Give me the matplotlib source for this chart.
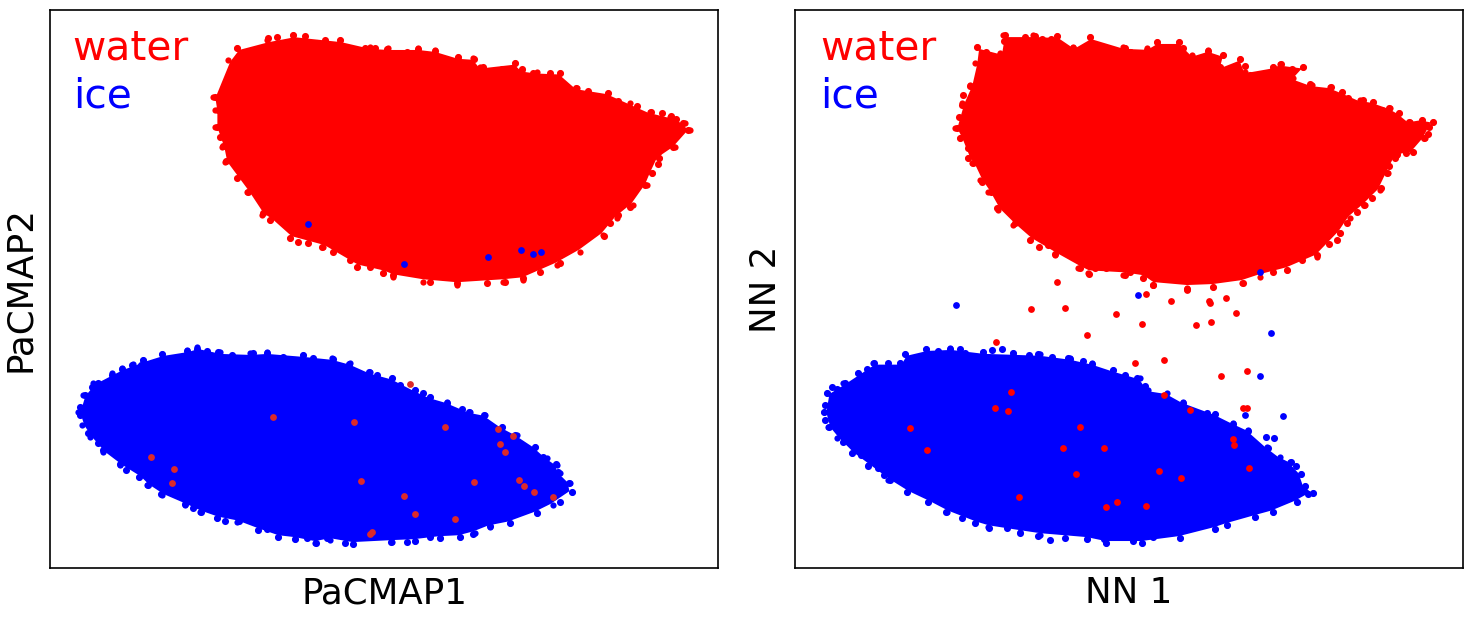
import matplotlib
matplotlib.use("Agg")
import matplotlib.pyplot as plt
import numpy as np

# no ticks on this chart so units are arbitrary
# EdgeX/EdgeY trace each cloud, RimX/RimY are single dots sticking out of the rim, strays are lone dots

pacmapWaterEdgeX = [213, 228, 237, 267, 293, 340, 370, 388, 418, 435, 458, 473, 480, 515, 522, 537, 560, 577, 608, 630, 650, 670, 685, 690, 675, 659, 652, 647, 633, 617, 603, 580, 557, 523, 503, 457, 423, 393, 383, 357, 323, 290, 270, 262, 247, 225, 222, 215, 215]
pacmapWaterEdgeY = [97, 60, 48, 40, 35, 40, 47, 48, 48, 50, 57, 58, 67, 63, 70, 72, 73, 88, 93, 103, 112, 117, 123, 130, 147, 158, 173, 185, 205, 218, 235, 252, 265, 280, 282, 285, 282, 277, 273, 267, 247, 238, 220, 215, 192, 162, 147, 127, 110]
pacmapWaterRimX = [215, 222, 237, 253, 268, 277, 293, 305, 302, 317, 325, 340, 365, 375, 387, 218, 227, 217, 220, 223, 226, 237, 248, 263, 270, 290, 298, 308, 322, 333, 350, 357, 370, 383, 407, 418, 435, 458, 474, 483, 502, 515, 522, 533, 550, 560, 576, 588, 608, 618, 637, 651, 662, 671, 676, 683, 688, 673, 665, 658, 659, 658, 652, 645, 630, 618, 610, 604, 587, 573, 560, 540, 523, 505, 487, 457, 430, 412, 393]
pacmapWaterRimY = [97, 96, 48, 52, 38, 37, 35, 36, 45, 43, 40, 40, 48, 48, 49, 110, 113, 127, 137, 146, 161, 178, 192, 213, 220, 238, 242, 243, 247, 252, 260, 267, 267, 273, 52, 49, 51, 57, 59, 67, 69, 63, 69, 73, 73, 73, 88, 91, 93, 101, 106, 112, 113, 116, 119, 123, 130, 147, 145, 152, 158, 164, 173, 185, 207, 215, 223, 236, 237, 243, 263, 272, 278, 282, 283, 283, 282, 272, 275]
pacmapIceEdgeX = [78, 83, 93, 112, 122, 133, 143, 162, 187, 197, 220, 250, 267, 303, 332, 350, 370, 392, 415, 430, 447, 470, 485, 502, 517, 535, 547, 557, 560, 570, 572, 553, 537, 510, 490, 475, 460, 440, 415, 392, 353, 330, 315, 295, 278, 258, 237, 217, 200, 185, 162, 147, 139, 120, 103, 90, 82]
pacmapIceEdgeY = [412, 395, 383, 373, 368, 364, 360, 354, 350, 347, 352, 353, 352, 355, 358, 363, 372, 378, 390, 397, 402, 412, 415, 427, 435, 447, 458, 465, 473, 483, 492, 505, 513, 523, 527, 533, 537, 538, 541, 542, 544, 540, 543, 539, 537, 530, 522, 518, 512, 505, 495, 485, 477, 465, 452, 437, 425]
pacmapIceRimX = [80, 85, 92, 98, 112, 122, 132, 143, 141, 159, 162, 187, 197, 207, 218, 232, 253, 267, 283, 303, 313, 327, 80, 88, 98, 103, 120, 126, 139, 148, 161, 185, 193, 201, 217, 225, 239, 258, 267, 278, 295, 316, 307, 333, 349, 369, 377, 392, 400, 415, 423, 430, 447, 462, 469, 484, 502, 515, 535, 543, 556, 558, 569, 572, 560, 537, 510, 490, 473, 460, 440, 430, 415, 407, 391, 353, 345, 327]
pacmapIceRimY = [407, 395, 387, 383, 375, 369, 365, 360, 365, 362, 354, 351, 349, 351, 352, 355, 353, 353, 357, 355, 358, 365, 415, 433, 443, 450, 464, 470, 477, 485, 494, 504, 508, 512, 518, 521, 521, 530, 529, 537, 539, 543, 538, 359, 364, 372, 375, 378, 385, 390, 393, 397, 403, 409, 412, 415, 427, 435, 447, 457, 464, 472, 483, 492, 502, 513, 523, 526, 534, 537, 538, 537, 541, 542, 542, 544, 543, 538]
pacmapBlueStrayX = [308, 404, 488, 521, 533, 541]
pacmapBlueStrayY = [224, 264, 257, 250, 254, 252]
pacmapRedStrayX = [273, 151, 174, 172, 410, 354, 445, 498, 513, 500, 505, 361, 474, 519, 524, 534, 553, 404, 415, 455, 372, 370]
pacmapRedStrayY = [417, 457, 469, 483, 384, 422, 427, 429, 436, 444, 452, 481, 482, 480, 486, 492, 497, 496, 514, 519, 532, 534]

nnWaterEdgeX = [955, 962, 970, 975, 977, 1000, 1003, 1033, 1057, 1073, 1090, 1123, 1147, 1157, 1179, 1192, 1208, 1223, 1220, 1240, 1245, 1273, 1280, 1303, 1293, 1312, 1330, 1342, 1360, 1373, 1390, 1399, 1410, 1422, 1433, 1425, 1413, 1397, 1388, 1380, 1365, 1350, 1340, 1317, 1287, 1260, 1242, 1213, 1187, 1153, 1143, 1123, 1088, 1078, 1055, 1030, 1013, 998, 988, 980, 972, 968, 960]
nnWaterEdgeY = [128, 103, 85, 63, 47, 53, 35, 35, 36, 47, 37, 47, 48, 42, 42, 55, 50, 55, 67, 59, 72, 67, 64, 67, 78, 85, 87, 92, 100, 102, 108, 113, 122, 120, 122, 138, 152, 155, 173, 190, 205, 218, 233, 257, 270, 277, 283, 287, 288, 285, 278, 275, 273, 268, 255, 240, 225, 210, 192, 180, 163, 158, 138]
nnWaterRimX = [957, 959, 963, 962, 970, 977, 986, 1000, 1004, 1005, 1011, 1019, 1025, 1035, 1042, 1036, 1051, 1057, 1062, 1073, 1090, 1088, 1107, 1125, 1130, 960, 968, 968, 973, 982, 991, 997, 1015, 1030, 1039, 1048, 1055, 1067, 1080, 1089, 1095, 1106, 1125, 1124, 1130, 1147, 1157, 1157, 1167, 1179, 1183, 1192, 1208, 1215, 1223, 1220, 1240, 1245, 1250, 1261, 1273, 1281, 1292, 1303, 1310, 1331, 1342, 1348, 1363, 1373, 1382, 1389, 1399, 1409, 1416, 1422, 1429, 1433, 1428, 1424, 1413, 1406, 1397, 1395, 1389, 1387, 1381, 1372, 1364, 1357, 1347, 1340, 1337, 1329, 1317, 1302, 1287, 1273, 1243, 1213, 1187, 1153, 1143, 1130]
nnWaterRimY = [128, 117, 95, 105, 86, 47, 52, 55, 41, 35, 41, 41, 37, 36, 39, 48, 39, 36, 47, 48, 37, 47, 49, 48, 52, 138, 148, 158, 163, 182, 192, 208, 223, 240, 247, 245, 254, 248, 268, 274, 268, 268, 275, 48, 52, 50, 42, 49, 55, 42, 48, 57, 51, 62, 55, 67, 59, 66, 75, 75, 67, 64, 69, 67, 84, 87, 92, 98, 100, 102, 110, 108, 113, 122, 127, 120, 127, 122, 134, 138, 152, 153, 154, 158, 166, 173, 188, 198, 205, 212, 223, 233, 240, 244, 255, 260, 270, 272, 283, 287, 289, 285, 278, 272]
nnIceEdgeX = [824, 827, 843, 858, 873, 900, 905, 926, 950, 983, 1013, 1040, 1070, 1092, 1113, 1140, 1148, 1167, 1183, 1215, 1233, 1248, 1267, 1280, 1290, 1301, 1305, 1313, 1297, 1273, 1255, 1227, 1215, 1180, 1142, 1106, 1087, 1040, 1020, 988, 975, 947, 928, 907, 888, 868, 852, 837, 828]
nnIceEdgeY = [412, 393, 383, 373, 363, 363, 354, 349, 348, 352, 353, 354, 358, 363, 370, 378, 390, 393, 402, 414, 423, 430, 447, 457, 462, 474, 486, 493, 502, 512, 517, 525, 529, 538, 543, 543, 539, 535, 532, 527, 523, 512, 502, 492, 480, 465, 453, 438, 427]
nnIceRimX = [827, 832, 837, 845, 858, 867, 874, 888, 900, 905, 915, 926, 926, 938, 950, 960, 965, 983, 992, 1002, 1013, 1029, 1038, 1052, 1068, 825, 824, 825, 829, 843, 852, 861, 868, 878, 884, 890, 907, 928, 946, 962, 975, 989, 1007, 1020, 1038, 1050, 1065, 1070, 1083, 1092, 1113, 1125, 1137, 1145, 1183, 1207, 1215, 1233, 1248, 1266, 1274, 1268, 1291, 1296, 1301, 1305, 1313, 1308, 1297, 1273, 1255, 1227, 1215, 1180, 1153, 1142, 1133, 1106, 1104, 1087]
nnIceRimY = [393, 387, 389, 383, 373, 369, 363, 363, 363, 354, 358, 349, 356, 351, 349, 349, 353, 352, 350, 349, 353, 355, 354, 357, 358, 405, 412, 420, 427, 442, 453, 455, 466, 468, 475, 480, 492, 502, 512, 518, 523, 528, 528, 533, 536, 540, 538, 359, 361, 364, 370, 375, 378, 386, 403, 413, 414, 424, 431, 437, 438, 448, 462, 466, 474, 486, 493, 494, 502, 512, 517, 525, 529, 538, 537, 543, 541, 543, 539, 539]
nnBlueStrayX = [956, 1138, 1260, 1271, 1260, 1245, 1283]
nnBlueStrayY = [305, 295, 272, 333, 376, 415, 416]
nnRedStrayX = [1057, 1153, 1187, 1146, 1171, 1209, 1210, 1226, 1031, 1065, 1116, 1236, 1142, 1196, 1211, 1087, 996, 1135, 1164, 1221, 1247, 1164, 1190, 1243, 1247, 1011, 995, 1008, 910, 927, 1080, 1063, 1104, 1076, 1159, 1181, 1233, 1234, 1249, 1019, 1117, 1106, 1146]
nnRedStrayY = [282, 285, 290, 294, 301, 301, 303, 298, 309, 308, 314, 313, 324, 325, 322, 335, 342, 363, 360, 376, 371, 395, 410, 408, 408, 392, 408, 411, 428, 450, 427, 448, 448, 474, 471, 478, 439, 445, 468, 497, 502, 507, 506]


def drawCloud(ax, edgeX, edgeY, rimX, rimY, color, zorder):
    # pull the solid part in a touch so the rim dots make the bumpy edge
    edgeX = np.array(edgeX, dtype=float)
    edgeY = np.array(edgeY, dtype=float)
    fillX = edgeX.mean() + (edgeX - edgeX.mean()) * 0.99
    fillY = edgeY.mean() + (edgeY - edgeY.mean()) * 0.98
    ax.fill(fillX, fillY, color=color, linewidth=0, zorder=zorder)
    ax.scatter(edgeX, edgeY, s=20, color=color, linewidths=0, zorder=zorder)
    ax.scatter(rimX, rimY, s=26, color=color, linewidths=0, zorder=zorder)


def finishPanel(ax, xLabel, yLabel, labelX):
    ax.set_xticks([])
    ax.set_yticks([])
    ax.set_xlabel(xLabel, fontsize=25.7, labelpad=6)
    ax.set_ylabel(yLabel, fontsize=25.7, labelpad=9)
    ax.text(labelX, 0.911, "water", color="red", fontsize=29.3, transform=ax.transAxes, ha="left", va="baseline")
    ax.text(labelX, 0.826, "ice", color="blue", fontsize=29.3, transform=ax.transAxes, ha="left", va="baseline")
    for spine in ax.spines.values():
        spine.set_linewidth(1.2)


fig = plt.figure(figsize=(14.71, 6.2), dpi=100)
axLeft = fig.add_axes([50 / 1471, 52 / 620, 668 / 1471, 558 / 620])
axRight = fig.add_axes([795 / 1471, 52 / 620, 668 / 1471, 558 / 620])

drawCloud(axLeft, pacmapWaterEdgeX, pacmapWaterEdgeY, pacmapWaterRimX, pacmapWaterRimY, "red", 1)
drawCloud(axLeft, pacmapIceEdgeX, pacmapIceEdgeY, pacmapIceRimX, pacmapIceRimY, "blue", 2)
axLeft.scatter(pacmapBlueStrayX, pacmapBlueStrayY, s=24, color="blue", linewidths=0, zorder=3)
axLeft.scatter(pacmapRedStrayX, pacmapRedStrayY, s=24, color="#dc2a2a", linewidths=0, zorder=3)
finishPanel(axLeft, "PaCMAP1", "PaCMAP2", 0.034)
axLeft.set_xlim(50, 718)
axLeft.set_ylim(568, 10)

drawCloud(axRight, nnWaterEdgeX, nnWaterEdgeY, nnWaterRimX, nnWaterRimY, "red", 1)
drawCloud(axRight, nnIceEdgeX, nnIceEdgeY, nnIceRimX, nnIceRimY, "blue", 2)
axRight.scatter(nnBlueStrayX, nnBlueStrayY, s=24, color="blue", linewidths=0, zorder=3)
axRight.scatter(nnRedStrayX, nnRedStrayY, s=24, color="red", linewidths=0, zorder=3)
finishPanel(axRight, "NN 1", "NN 2", 0.038)
axRight.set_xlim(795, 1463)
axRight.set_ylim(568, 10)

plt.savefig("out.png", dpi=100)
plt.close()
